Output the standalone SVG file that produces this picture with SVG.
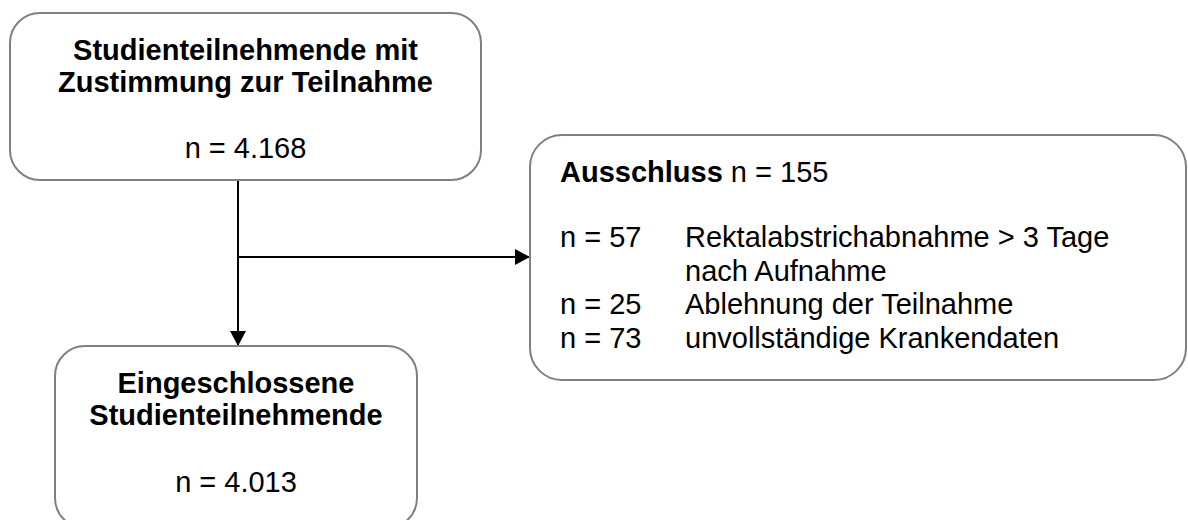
<svg xmlns="http://www.w3.org/2000/svg" width="1188" height="520" viewBox="0 0 1188 520">
  <style>
    .box { fill: #ffffff; stroke: #808080; stroke-width: 2; }
    .t { font-family: "Liberation Sans", Arial, sans-serif; fill: #000000; }
    .title { font-size: 29px; font-weight: bold; text-anchor: middle; }
    .num { font-size: 29px; text-anchor: middle; }
    .ex { font-size: 29px; }
    .conn { stroke: #000000; stroke-width: 2; fill: none; }
  </style>
  <defs>
    <marker id="arrow" markerUnits="userSpaceOnUse" markerWidth="16" markerHeight="16" refX="15" refY="8" orient="auto">
      <path d="M0,0 L15,8 L0,16 z" fill="#000000"/>
    </marker>
  </defs>
  <rect width="1188" height="520" fill="#ffffff"/>

  <g id="connectors">
    <line class="conn" x1="238" y1="180" x2="238" y2="346" marker-end="url(#arrow)"/>
    <line class="conn" x1="238" y1="257" x2="530" y2="257" marker-end="url(#arrow)"/>
  </g>

  <g id="node-consent">
    <rect class="box" x="10" y="13" width="471" height="167" rx="30" ry="30"/>
    <text class="t title" x="245.5" y="60">Studienteilnehmende mit</text>
    <text class="t title" x="245.5" y="92">Zustimmung zur Teilnahme</text>
    <text class="t num" x="245.5" y="158">n = 4.168</text>
  </g>

  <g id="node-exclusion">
    <rect class="box" x="530" y="135" width="656" height="245" rx="32" ry="32"/>
    <text class="t ex" x="560" y="182"><tspan font-weight="bold">Ausschluss</tspan> n = 155</text>
    <text class="t ex" x="560" y="247">n = 57</text>
    <text class="t ex" x="685" y="247">Rektalabstrichabnahme &gt; 3 Tage</text>
    <text class="t ex" x="685" y="281">nach Aufnahme</text>
    <text class="t ex" x="560" y="314">n = 25</text>
    <text class="t ex" x="685" y="314">Ablehnung der Teilnahme</text>
    <text class="t ex" x="560" y="348">n = 73</text>
    <text class="t ex" x="685" y="348">unvollständige Krankendaten</text>
  </g>

  <g id="node-included">
    <rect class="box" x="55" y="346" width="362" height="182" rx="30" ry="30"/>
    <text class="t title" x="236" y="393">Eingeschlossene</text>
    <text class="t title" x="236" y="425">Studienteilnehmende</text>
    <text class="t num" x="236" y="492">n = 4.013</text>
  </g>
</svg>
